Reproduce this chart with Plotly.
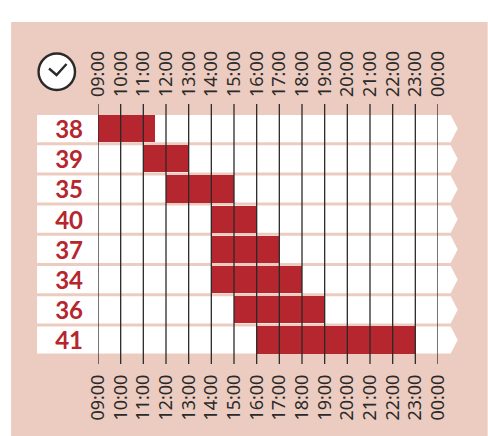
import plotly.graph_objects as go

rows = ["38", "39", "35", "40", "37", "34", "36", "41"]
starts = [9, 11, 12, 14, 14, 14, 15, 16]
ends = [11.5, 13, 15, 16, 17, 18, 19, 23]
hours = list(range(9, 25))
hour_labels = ["09:00", "10:00", "11:00", "12:00", "13:00", "14:00", "15:00", "16:00",
               "17:00", "18:00", "19:00", "20:00", "21:00", "22:00", "23:00", "00:00"]

W, H = 488, 436
L, R, T, B = 98, 438.3, 104, 364
PANEL = "#ecccc0"
RED = "#b5262e"
INK = "#2b2a29"
DY = 30.2
Y0 = 128.6

def px(v):
    return (v - L) / (R - L)

def py(v):
    return 1 - (v - T) / (B - T)

shapes = [dict(type="rect", xref="paper", yref="paper", x0=px(11), x1=px(488), y0=py(22), y1=py(436),
               fillcolor=PANEL, line_width=0, layer="below")]
xl, xa, xt = px(37), px(451), px(458)
for i in range(len(rows)):
    c = Y0 + DY * i
    t, b, m = py(c - 13.6), py(c + 13.6), py(c)
    shapes.append(dict(type="path", xref="paper", yref="paper",
                       path=f"M {xl} {t} L {xa} {t} L {xt} {m} L {xa} {b} L {xl} {b} Z",
                       fillcolor="white", line_width=0, layer="below"))
for h in hours:
    shapes.append(dict(type="line", xref="x", yref="paper", x0=h, x1=h, y0=0, y1=1,
                       line=dict(color=INK, width=1.3), layer="above"))
shapes.append(dict(type="circle", xref="paper", yref="paper", x0=px(38.5), x1=px(75), y0=py(53.5), y1=py(90),
                   fillcolor="white", line=dict(color=INK, width=2.4), layer="above"))
shapes.append(dict(type="path", xref="paper", yref="paper",
                   path=f"M {px(49)} {py(68.5)} L {px(56.5)} {py(75)} L {px(66.5)} {py(64)}",
                   fillcolor="rgba(0,0,0,0)", line=dict(color=INK, width=2.4), layer="above"))

fig = go.Figure()
fig.add_trace(go.Bar(y=rows, x=[e - s for s, e in zip(starts, ends)], base=starts, orientation="h",
                     marker=dict(color=RED, line_width=0), width=27.2 / DY, hoverinfo="skip", showlegend=False))
fig.add_trace(go.Scatter(x=hours, y=[rows[0]] * len(hours), xaxis="x2", mode="markers",
                         marker=dict(opacity=0), hoverinfo="skip", showlegend=False))

tick_font = dict(family="Noto Sans", size=18, color=INK)
axis = dict(range=[9, 24], tickmode="array", tickvals=hours, ticktext=hour_labels, tickangle=-90,
            tickfont=tick_font, showgrid=False, zeroline=False, showline=False, ticks="", fixedrange=True)
fig.update_layout(
    width=W, height=H, autosize=False,
    margin=dict(l=L, r=W - R, t=T, b=H - B, pad=0),
    paper_bgcolor="white", plot_bgcolor="rgba(0,0,0,0)",
    shapes=shapes,
    xaxis=dict(side="bottom", ticklabelstandoff=6, **axis),
    xaxis2=dict(side="top", overlaying="x", ticklabelstandoff=6, **axis),
    yaxis=dict(type="category", categoryorder="array", categoryarray=rows,
               range=[(B - Y0) / DY, (T - Y0) / DY], showgrid=False, zeroline=False, showline=False, ticks="",
               ticklabelstandoff=14, ticklabelshift=-1,
               tickfont=dict(family="Lato", size=24, color=RED, weight="bold")),
    bargap=0,
)
fig.write_html("out.html", config=dict(displayModeBar=False),
               post_script="document.body.style.margin='0';document.documentElement.style.overflow='hidden';")
